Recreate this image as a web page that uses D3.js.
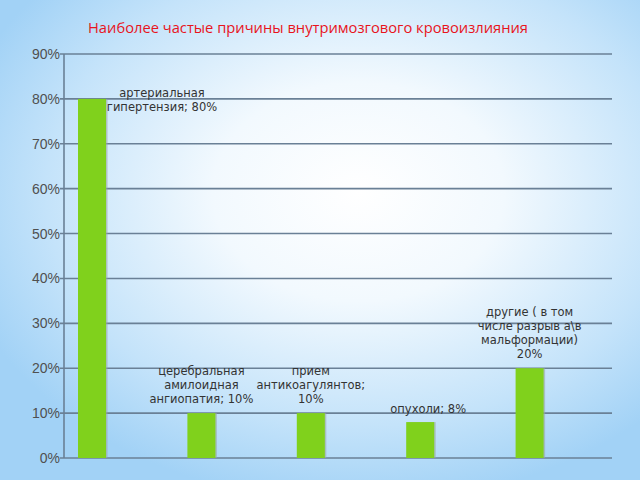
<!DOCTYPE html>
<html><head><meta charset="utf-8">
<script src="https://cdn.jsdelivr.net/npm/d3@7"></script>
<style>html,body{margin:0;padding:0;overflow:hidden}</style>
</head><body>
<script>
const categories = [
  "артериальная гипертензия",
  "церебральная амилоидная ангиопатия",
  "прием антикоагулянтов",
  "опухоли",
  "другие ( в том числе разрыв а\\в мальформации)"
];
const values = [0.80, 0.10, 0.10, 0.08, 0.20];
const labelLines = [
  ["артериальная", "гипертензия; 80%"],
  ["церебральная", "амилоидная", "ангиопатия; 10%"],
  ["прием", "антикоагулянтов;", "10%"],
  ["опухоли; 8%"],
  ["другие ( в том", "числе разрыв а\\в", "мальформации)", "20%"]
];
const yTicks = [0, 0.1, 0.2, 0.3, 0.4, 0.5, 0.6, 0.7, 0.8, 0.9];
const title = "Наиболее частые причины внутримозгового кровоизлияния";

const W = 640, H = 480;
const svg = d3.select("body").append("svg").attr("width", W).attr("height", H);
const defs = svg.append("defs");
const rg = defs.append("radialGradient").attr("id", "bg")
  .attr("cx", "56%").attr("cy", "40%").attr("r", "65%");
rg.append("stop").attr("offset", "0%").attr("stop-color", "#ffffff");
rg.append("stop").attr("offset", "35%").attr("stop-color", "#f2f9fe");
rg.append("stop").attr("offset", "75%").attr("stop-color", "#c4e3fa");
rg.append("stop").attr("offset", "100%").attr("stop-color", "#a2d2f6");
svg.append("rect").attr("width", W).attr("height", H).attr("fill", "url(#bg)");

svg.append("text").attr("x", 88).attr("y", 33)
  .attr("font-family", "'Open Sans', sans-serif").attr("font-size", 14)
  .attr("textLength", 440).attr("lengthAdjust", "spacingAndGlyphs")
  .attr("fill", "#e8141c").text(title);

const y = d3.scaleLinear().domain([0, 0.9]).range([458, 54]);
const x = d3.scaleBand().domain(categories).range([78, 543.6]).paddingInner(0.744).paddingOuter(0);

// gridlines
svg.append("g").selectAll("line").data(yTicks).join("line")
  .attr("x1", 60).attr("x2", 612)
  .attr("y1", d => y(d)).attr("y2", d => y(d))
  .attr("stroke", "#6a8096").attr("stroke-width", 1.6);

// y axis line
svg.append("line").attr("x1", 64).attr("x2", 64).attr("y1", y(0.9)).attr("y2", y(0))
  .attr("stroke", "#6a8096").attr("stroke-width", 1.6);

// tick labels
svg.append("g").selectAll("text").data(yTicks).join("text")
  .attr("x", 60).attr("y", d => y(d) + 5)
  .attr("text-anchor", "end")
  .attr("font-family", "'Liberation Sans Narrow', 'Liberation Sans', sans-serif")
  .attr("font-size", 14).attr("fill", "#505050")
  .text(d3.format(".0%"));

// bars with shadow
const bars = svg.append("g");
bars.selectAll("rect.sh").data(values).join("rect")
  .attr("x", (d, i) => x(categories[i]) + 1.5)
  .attr("y", d => y(d))
  .attr("width", x.bandwidth())
  .attr("height", d => y(0) - y(d))
  .attr("fill", "#9aa8a0").attr("opacity", 0.6);
bars.selectAll("rect.b").data(values).join("rect")
  .attr("x", (d, i) => x(categories[i]))
  .attr("y", d => y(d))
  .attr("width", x.bandwidth())
  .attr("height", d => y(0) - y(d))
  .attr("fill", "#80d11c");

// data labels
const labelPos = [
  {dx: 70, shift: 12},
  {dx: 0, shift: -10},
  {dx: 0, shift: -10},
  {dx: 8, shift: -9},
  {dx: 0, shift: -10}
];
const lg = svg.append("g")
  .attr("font-family", "'DejaVu Sans', sans-serif")
  .attr("font-size", 11.5).attr("fill", "#333");
labelLines.forEach((lines, i) => {
  const cx = x(categories[i]) + x.bandwidth() / 2 + labelPos[i].dx;
  const lh = 14;
  const baseY = y(values[i]) + labelPos[i].shift;
  const t = lg.append("text").attr("text-anchor", "middle");
  lines.forEach((ln, j) => {
    t.append("tspan").attr("x", cx)
      .attr("y", baseY - (lines.length - 1 - j) * lh)
      .text(ln);
  });
});
</script>
</body></html>
